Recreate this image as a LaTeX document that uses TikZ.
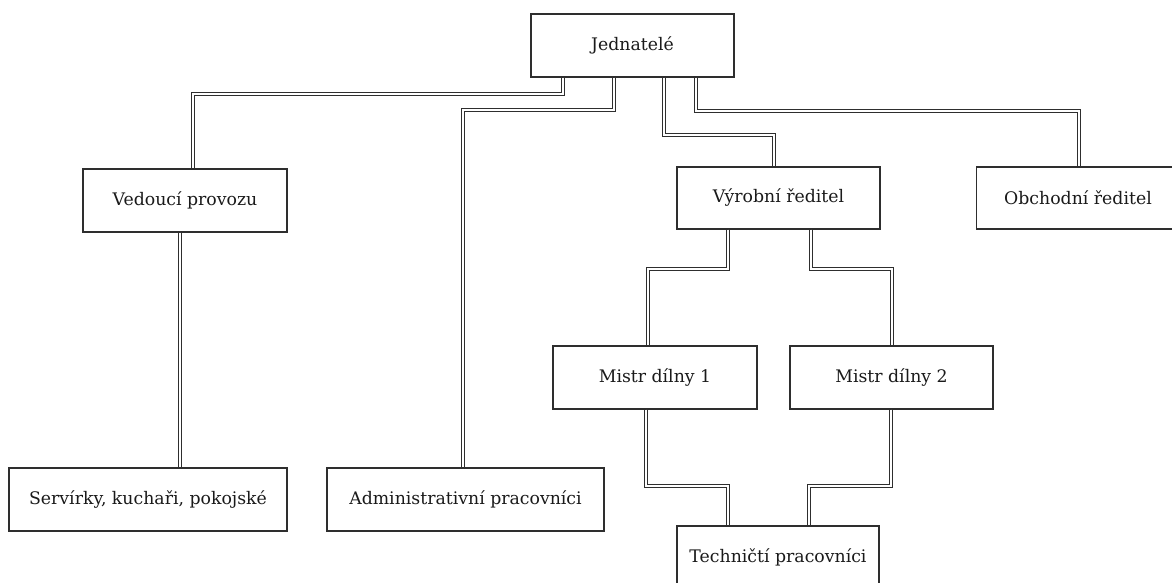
\documentclass[tikz,border=0pt]{standalone}
\usepackage{fontspec}
\setmainfont{DejaVu Serif}
\definecolor{ln}{HTML}{2E2E2E}
\definecolor{tx}{HTML}{1A1A1A}
\tikzset{
  box/.style={draw=ln, line width=1.4pt, fill=white, inner sep=0pt,
    minimum height=63pt, text=tx, font=\fontsize{17.3}{20}\selectfont},
  conn/.style={draw=ln, line width=1.1pt, double=white, double distance=1.3pt, line join=miter}
}
\begin{document}
\begin{tikzpicture}[x=1pt,y=-1pt]
\useasboundingbox (0,0) rectangle (1172,583);
\node[box, minimum width=203pt] (J)  at (632.5,45.5) {Jednatelé};
\node[box, minimum width=204pt] (V)  at (185,200.5) {Vedoucí provozu};
\node[box, minimum width=203pt, minimum height=62pt] (Vy) at (778.5,198) {Výrobní ředitel};
\node[box, minimum width=203pt, minimum height=62pt] (O)  at (1078,198) {Obchodní ředitel};
\node[box, minimum width=204pt] (M1) at (655,377.5) {Mistr dílny 1};
\node[box, minimum width=203pt] (M2) at (891.5,377.5) {Mistr dílny 2};
\node[box, minimum width=278pt] (S)  at (148,499.5) {Servírky, kuchaři, pokojské};
\node[box, minimum width=277pt] (A)  at (465.5,499.5) {Administrativní pracovníci};
\node[box, minimum width=202pt] (T)  at (778,557.5) {Techničtí pracovníci};

\draw[conn] (J.south -| 563,0) |- (193,94) -- (V.north -| 193,0);
\draw[conn] (J.south -| 614,0) |- (463,110) -- (A.north -| 463,0);
\draw[conn] (J.south -| 664,0) |- (774,135) -- (Vy.north -| 774,0);
\draw[conn] (J.south -| 696,0) |- (1079,111) -- (O.north -| 1079,0);
\draw[conn] (V.south -| 180,0) -- (S.north -| 180,0);
\draw[conn] (Vy.south -| 728,0) |- (648,269) -- (M1.north -| 648,0);
\draw[conn] (Vy.south -| 811,0) |- (892,269) -- (M2.north -| 892,0);
\draw[conn] (M1.south -| 646,0) |- (728,486) -- (T.north -| 728,0);
\draw[conn] (M2.south -| 891,0) |- (809,486) -- (T.north -| 809,0);
\end{tikzpicture}
\end{document}
